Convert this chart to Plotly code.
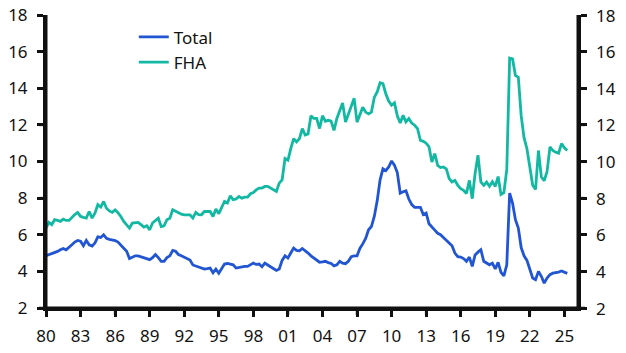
import pandas as pd
import plotly.graph_objects as go

# Quarterly data, 1980Q1 - 2025Q2 (%)
total = [
    4.85, 4.9, 4.97, 5.03,
    5.09, 5.18, 5.25, 5.18,
    5.3, 5.45, 5.6, 5.69,
    5.65, 5.4, 5.69, 5.45,
    5.38, 5.55, 5.88, 5.85,
    6.0, 5.8, 5.75, 5.72,
    5.68, 5.6, 5.45, 5.3,
    5.1, 4.7, 4.78, 4.85,
    4.85, 4.8, 4.72, 4.68,
    4.64, 4.75, 4.92, 4.75,
    4.55, 4.55, 4.75, 4.85,
    5.15, 5.1, 4.92, 4.85,
    4.78, 4.7, 4.62, 4.35,
    4.3, 4.27, 4.2, 4.13,
    4.15, 4.18, 3.92, 4.12,
    3.9, 4.12, 4.4, 4.43,
    4.38, 4.36, 4.18, 4.22,
    4.27, 4.27, 4.27, 4.35,
    4.45, 4.38, 4.4, 4.25,
    4.45, 4.35, 4.24, 4.15,
    4.05, 4.13, 4.6, 4.85,
    4.73, 5.0, 5.27, 5.15,
    5.12, 5.25, 5.15, 5.0,
    4.85, 4.72, 4.62, 4.5,
    4.52, 4.55, 4.48, 4.43,
    4.3, 4.36, 4.55, 4.45,
    4.42, 4.55, 4.8, 4.85,
    4.85, 5.25, 5.5, 5.8,
    6.27, 6.45, 7.0, 7.85,
    9.0, 9.6, 9.5, 9.7,
    10.03, 9.8, 9.4, 8.27,
    8.35, 8.4, 7.95, 7.65,
    7.5, 7.5, 7.5, 7.1,
    7.18, 6.6, 6.4, 6.25,
    6.08, 6.0, 5.85, 5.7,
    5.55, 5.4, 5.0, 4.8,
    4.78, 4.7, 4.55, 4.78,
    4.27, 4.9, 5.05, 5.18,
    4.55, 4.45, 4.36, 4.45,
    4.13, 4.49, 3.95, 3.76,
    4.36, 8.27, 7.73, 6.82,
    6.36, 5.3, 4.85, 4.6,
    4.09, 3.64, 3.55, 4.0,
    3.73, 3.36, 3.64, 3.82,
    3.9, 3.92, 3.96, 4.02,
    3.95, 3.89,
]

fha = [
    6.36, 6.67, 6.55, 6.82,
    6.78, 6.73, 6.85, 6.78,
    6.78, 6.95, 7.1, 7.22,
    7.0, 6.95, 6.91, 7.27,
    6.91, 7.18, 7.64, 7.51,
    7.82, 7.45, 7.3, 7.22,
    7.36, 7.2, 7.0, 6.73,
    6.55, 6.36, 6.64, 6.66,
    6.67, 6.55, 6.42, 6.49,
    6.27, 6.64, 6.8, 6.91,
    6.45, 6.49, 6.82, 6.9,
    7.36, 7.27, 7.18, 7.12,
    7.09, 7.09, 7.09, 6.91,
    7.22, 7.1, 7.09, 7.27,
    7.27, 7.27, 7.0, 7.4,
    7.15, 7.5, 7.82, 7.73,
    8.13, 7.91, 7.95, 8.09,
    8.0, 8.05, 8.05, 8.24,
    8.3, 8.45, 8.55, 8.55,
    8.64, 8.64, 8.55, 8.45,
    8.36, 8.82, 9.0, 10.16,
    10.07, 10.7, 11.25, 11.07,
    11.25, 11.8, 11.45, 11.5,
    12.5, 12.35, 12.35, 11.8,
    12.5, 12.2, 12.25, 12.2,
    11.7, 12.35, 12.8, 13.2,
    12.15, 12.6, 13.0, 13.45,
    12.15, 12.6, 12.96, 12.7,
    12.6, 12.7, 13.5, 13.8,
    14.3, 14.25, 13.7, 13.3,
    13.07, 13.2, 12.5, 12.1,
    12.52, 12.16, 12.34, 12.1,
    11.98, 11.8, 11.16, 11.1,
    11.0, 10.8, 9.97, 10.43,
    9.79, 9.67, 9.7, 9.6,
    9.07, 8.88, 8.97, 8.7,
    8.52, 8.43, 8.25, 8.97,
    7.97, 9.34, 10.34, 8.88,
    8.7, 8.88, 8.65, 8.9,
    8.64, 9.18, 8.2, 8.3,
    9.55, 15.65, 15.6, 14.7,
    14.6, 12.5, 11.3, 10.7,
    9.6, 8.7, 8.47, 10.6,
    9.15, 8.95, 9.45, 10.8,
    10.6, 10.5, 10.45, 10.98,
    10.75, 10.6,
]

# Tick values
x_tick_years = list(range(1980, 2026, 3))
y_tick_values = list(range(2, 19, 2))

dates = pd.date_range("1980-01-01", periods=len(total), freq="QS")
x_ticks = [f"{y}-01-01" for y in x_tick_years]
x_ticktext = [f"{y % 100:02d}" for y in x_tick_years]

BLUE = "#2155d2"
TEAL = "#12b8a2"
INK = "#111111"
FONT = dict(family="Noto Sans", size=17, color="#111111")

fig = go.Figure()
fig.add_trace(go.Scatter(x=dates, y=total, name="Total", mode="lines",
                         line=dict(color=BLUE, width=2.8)))
fig.add_trace(go.Scatter(x=dates, y=fha, name="FHA", mode="lines",
                         line=dict(color=TEAL, width=2.8)))

# Axis frame and tick marks as shapes (backup), anchored to the tick values
shapes = []
axis_line = dict(color=INK, width=3)
tick_line = dict(color=INK, width=2.5)
shapes.append(dict(type="line", xref="paper", yref="paper", x0=0, x1=0, y0=0, y1=1,
                   line=axis_line, layer="above"))
shapes.append(dict(type="line", xref="paper", yref="paper", x0=1, x1=1, y0=0, y1=1,
                   line=axis_line, layer="above"))
shapes.append(dict(type="line", xref="paper", yref="paper", x0=0, x1=1, y0=0, y1=0,
                   line=axis_line, layer="above"))
for d in x_ticks:
    shapes.append(dict(type="line", xref="x", yref="paper", x0=d, x1=d,
                       ysizemode="pixel", yanchor=0, y0=0, y1=-7,
                       line=tick_line, layer="above"))
for v in y_tick_values:
    shapes.append(dict(type="line", xref="paper", yref="y", y0=v, y1=v,
                       xsizemode="pixel", xanchor=0, x0=0, x1=-7,
                       line=tick_line, layer="above"))
    shapes.append(dict(type="line", xref="paper", yref="y", y0=v, y1=v,
                       xsizemode="pixel", xanchor=1, x0=0, x1=7,
                       line=tick_line, layer="above"))

# Right-hand tick labels (same scale as the left axis)
annotations = [dict(x=1, xref="paper", y=v, yref="y", text=str(v), showarrow=False,
                    xanchor="left", yanchor="middle", xshift=16, font=FONT)
               for v in y_tick_values]

fig.update_layout(
    template="none",
    width=626, height=353,
    margin=dict(l=46, r=48, t=15, b=45),
    font=FONT,
    legend=dict(x=0.165, y=0.985, xanchor="left", yanchor="top",
                bgcolor="rgba(0,0,0,0)", font=FONT),
    xaxis=dict(range=["1980-01-01", "2026-03-08"], tickvals=x_ticks, ticktext=x_ticktext,
               showgrid=False, zeroline=False, showline=True, linecolor=INK,
               linewidth=3, ticks="outside", ticklen=6, tickwidth=2.5, tickcolor=INK,
               ticklabelstandoff=5),
    yaxis=dict(range=[2, 18], tickvals=y_tick_values, showgrid=False, zeroline=False,
               showline=True, mirror="allticks", linecolor=INK, linewidth=3,
               ticks="outside", ticklen=6, tickwidth=2.5, tickcolor=INK,
               ticklabelstandoff=6),
    shapes=shapes,
    annotations=annotations,
)

fig.write_html("out.html")
